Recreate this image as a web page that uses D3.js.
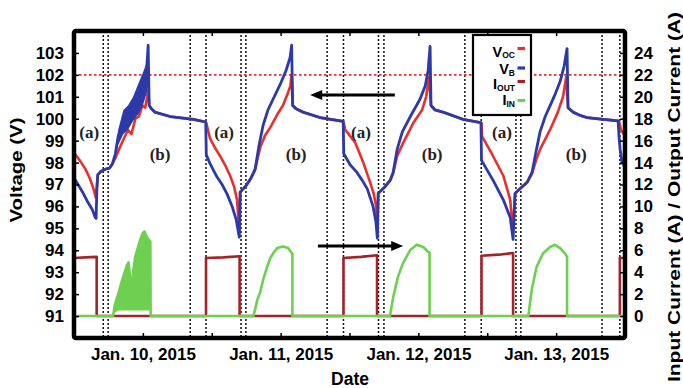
<!DOCTYPE html>
<html>
<head>
<meta charset="utf-8">
<script src="https://cdn.jsdelivr.net/npm/d3@7"></script>
<style>
  html, body { margin: 0; padding: 0; background: #fff; }
  svg { display: block; font-family: "Liberation Sans", Arial, Helvetica, sans-serif; }
</style>
</head>
<body>
<svg id="chart" width="683" height="388"></svg>
<script>
// Time is in hours from Jan. 10, 2015 00:00.
const dayTickHours = [0, 24, 48, 72];
const dayTickLabels = ["Jan. 10, 2015", "Jan. 11, 2015", "Jan. 12, 2015", "Jan. 13, 2015"];
const halfDayTickHours = [-12, 12, 36, 60, 84];
const voltageTicks = [91, 92, 93, 94, 95, 96, 97, 98, 99, 100, 101, 102, 103];
const currentTicks = [0, 2, 4, 6, 8, 10, 12, 14, 16, 18, 20, 22, 24];
const voltageLimit = 102;

// Battery voltage V_B [hour, V]
const vB = [
  [-12.0, 97.3], [-11.3, 97.0], [-10.5, 96.65], [-9.6, 96.2], [-8.8, 95.85], [-8.3, 95.5], [-8.15, 95.45],
  [-8.0, 96.9], [-7.85, 97.45], [-7.3, 97.6], [-6.5, 97.7], [-5.8, 97.75], [-5.3, 97.95], [-4.8, 98.4],
  [-4.3, 99.2], [-3.4, 99.9], [-2.6, 100.1], [-1.7, 100.5], [-0.8, 100.9], [0.0, 101.4], [0.6, 102.0],
  [0.92, 103.35], [1.1, 100.6], [1.5, 100.45], [2.1, 100.3], [4.75, 100.1], [8.8, 99.97], [10.95, 99.85],
  [11.05, 98.35], [11.7, 97.95], [12.9, 97.35], [13.8, 97.0], [14.7, 96.55], [15.55, 96.0], [16.25, 95.4],
  [16.8, 94.6], [16.95, 96.65], [18.0, 96.95], [18.85, 97.3], [19.55, 97.7], [20.25, 98.8], [20.95, 99.7],
  [21.8, 100.4], [22.7, 100.9], [23.9, 101.55], [24.95, 102.2], [25.65, 102.8], [25.92, 103.35],
  [26.1, 100.6], [26.7, 100.45], [27.9, 100.3], [30.9, 100.05], [34.9, 99.88],
  [35.0, 98.4], [36.1, 97.9], [37.3, 97.55], [38.2, 97.2], [39.1, 96.8], [40.1, 96.0], [40.6, 95.3],
  [40.85, 94.55], [41.0, 96.6], [42.2, 96.9], [43.1, 97.2], [43.6, 97.55], [44.3, 98.6], [45.2, 99.4],
  [46.6, 100.1], [48.3, 100.9], [49.2, 101.5], [49.7, 102.2], [50.04, 103.3], [50.2, 100.6], [50.9, 100.4],
  [52.3, 100.3], [55.8, 99.97], [58.9, 99.82],
  [59.0, 98.1], [61.0, 97.2], [62.8, 96.3], [64.0, 95.5], [64.5, 94.5], [64.85, 96.6], [65.9, 96.85],
  [66.95, 97.1], [67.8, 97.55], [68.5, 98.5], [69.2, 99.4], [70.1, 100.1], [70.95, 100.6], [71.8, 101.1],
  [72.7, 101.7], [73.4, 102.4], [73.9, 103.2], [74.08, 100.5], [74.95, 100.3], [76.2, 100.15],
  [77.4, 100.05], [80.2, 99.97], [82.8, 99.9], [82.95, 99.2], [83.15, 98.6], [83.5, 98.0], [84.0, 97.8]
];

// Spread of the noisy V_B trace on the first charging day [hour, low, high]
const vBNoise = [
  [-4.8, 98.2, 98.4], [-4.3, 98.8, 99.5], [-3.4, 99.3, 100.4], [-2.6, 99.5, 100.6], [-1.7, 99.9, 101.0],
  [-0.8, 100.2, 101.6], [0.0, 100.6, 102.1], [0.7, 101.2, 102.6], [0.92, 101.5, 103.35], [1.1, 100.6, 100.6]
];

// Open-circuit voltage V_OC [hour, V]
const vOC = [
  [-12.0, 98.45], [-11.0, 98.1], [-10.0, 97.7], [-9.2, 97.25], [-8.6, 96.8], [-8.2, 96.4], [-8.0, 96.9],
  [-7.85, 97.45], [-7.3, 97.6], [-6.5, 97.7], [-5.8, 97.75], [-5.3, 97.95], [-4.8, 98.2], [-4.0, 98.7],
  [-3.3, 99.1], [-2.6, 99.5], [-2.0, 99.3], [-1.3, 100.0], [-0.7, 100.1], [-0.1, 100.6], [0.4, 100.5],
  [0.75, 101.0], [0.92, 101.3], [1.1, 100.6], [1.5, 100.45], [2.1, 100.3], [4.75, 100.1], [8.8, 99.97],
  [10.95, 99.85],
  [11.05, 99.8], [11.7, 99.1], [12.5, 98.7], [13.45, 98.3], [14.3, 97.9], [15.2, 97.4], [15.9, 96.9],
  [16.4, 96.3], [16.8, 94.9], [16.95, 96.65], [18.0, 96.95], [18.85, 97.3], [19.55, 97.65], [20.0, 98.2],
  [20.45, 98.7], [21.3, 99.25], [22.2, 99.6], [23.55, 100.25], [24.4, 100.6], [25.3, 101.2], [25.7, 101.5],
  [25.9, 102.0], [26.1, 100.6], [26.7, 100.45], [27.9, 100.3], [30.9, 100.05], [34.9, 99.88],
  [35.0, 99.8], [35.25, 99.5], [36.0, 99.25], [37.0, 98.9], [38.4, 98.0], [39.6, 97.1], [40.2, 96.6],
  [40.65, 96.0], [40.85, 94.8], [41.0, 96.6], [42.2, 96.9], [43.1, 97.2], [43.6, 97.5], [44.3, 98.3],
  [45.35, 98.9], [47.1, 99.8], [48.65, 100.4], [49.35, 101.0], [49.87, 101.9], [50.2, 100.6], [50.9, 100.4],
  [52.3, 100.3], [55.8, 99.97], [58.9, 99.82],
  [59.0, 99.8], [59.1, 99.2], [61.0, 98.3], [62.8, 97.4], [64.0, 96.3], [64.45, 94.9], [64.85, 96.6],
  [65.9, 96.85], [66.95, 97.1], [67.8, 97.5], [68.5, 98.1], [69.2, 98.6], [70.95, 99.5], [72.3, 100.3],
  [73.2, 101.0], [73.75, 101.9], [74.08, 100.5], [74.95, 100.3], [76.2, 100.15], [77.4, 100.05],
  [80.2, 99.97], [82.8, 99.9], [83.0, 99.85], [83.3, 99.5], [84.0, 99.2]
];

// Output current I_OUT [hour, A]
const iOut = [
  [-12.0, 5.3], [-10.0, 5.35], [-8.05, 5.4], [-8.05, 0], [11.0, 0], [11.0, 5.3], [14.0, 5.35],
  [16.85, 5.45], [16.85, 0], [34.95, 0], [34.95, 5.3], [38.0, 5.4], [40.8, 5.55], [40.8, 0],
  [59.0, 0], [59.0, 5.5], [62.0, 5.6], [64.5, 5.75], [64.5, 0], [83.1, 0], [83.1, 5.3], [84.0, 5.3]
];

// Input current I_IN [hour, A]
const iIn = [
  [-12.0, 0], [-5.2, 0], [-4.9, 1.0], [-4.3, 2.0], [-3.6, 3.3], [-2.8, 4.6], [-2.5, 4.9], [-2.2, 3.4],
  [-1.95, 2.2], [-1.7, 4.0], [-1.35, 5.4], [-0.5, 6.9], [0.0, 7.6], [0.3, 7.7], [0.8, 7.1], [1.15, 6.9],
  [1.3, 6.8], [1.35, 0],
  [19.25, 0], [19.6, 0.7], [19.95, 1.5], [20.45, 2.2], [21.0, 3.4], [21.65, 4.5], [22.2, 5.3], [22.8, 5.8],
  [23.4, 6.2], [24.45, 6.35], [25.3, 6.2], [25.85, 5.8], [26.05, 5.7], [26.05, 0],
  [43.05, 0], [43.6, 1.7], [44.45, 3.6], [45.3, 4.8], [46.55, 6.0], [47.7, 6.5], [48.85, 6.3],
  [49.7, 5.85], [49.95, 5.8], [49.95, 0],
  [67.15, 0], [67.75, 2.4], [68.6, 4.5], [69.7, 5.7], [70.95, 6.3], [71.8, 6.5], [72.7, 6.2],
  [73.55, 5.7], [73.9, 5.4], [73.9, 0], [84.0, 0]
];

// Spread of the noisy I_IN trace on the first charging day [hour, low, high]
const iInNoise = [
  [-5.2, 0, 0], [-4.9, 0.3, 1.0], [-4.3, 0.5, 2.0], [-3.6, 0.5, 3.3], [-2.8, 0.5, 4.6], [-2.5, 0.5, 4.9],
  [-2.2, 0.5, 3.4], [-1.95, 0.5, 2.2], [-1.7, 0.5, 4.0], [-1.35, 0.5, 5.4], [-0.5, 0.5, 6.9],
  [0.0, 0.5, 7.6], [0.3, 0.5, 7.7], [0.8, 0.5, 7.1], [1.15, 0.5, 6.9], [1.3, 0.5, 6.8], [1.35, 0, 0]
];

// Operating-mode boundaries (hours)
const modeBoundaries = [-6.9, -6.05, 8.25, 11.0, 17.1, 17.95, 32.1, 34.95, 41.05, 42.0,
                        56.1, 58.95, 65.0, 65.85, 80.0, 83.1];

// Mode labels [text, hour, V]
const modeLabels = [
  ["(a)", -9.35, 99.35], ["(a)", 14.15, 99.35], ["(a)", 38.0, 99.35], ["(a)", 62.55, 99.35],
  ["(b)", 3.0, 98.35], ["(b)", 26.7, 98.35], ["(b)", 50.4, 98.35], ["(b)", 75.5, 98.35]
];

const legendNames = [["V", "OC"], ["V", "B"], ["I", "OUT"], ["I", "IN"]];

const colors = { vOC: "#e9302c", vB: "#2b3aa8", iOut: "#a3232a", iIn: "#6dd04e", limit: "#f02a2a" };

// ---------------------------------------------------------------------------
const svg = d3.select("#chart");
const P = { left: 74, right: 625, top: 31, bottom: 338 };

const x = d3.scaleLinear().domain([-12, 84]).range([P.left, P.right]);
const yV = d3.scaleLinear().domain([90, 104]).range([P.bottom, P.top]);
const yI = d3.scaleLinear().domain([-2, 26]).range([P.bottom, P.top]);

svg.append("defs").append("clipPath").attr("id", "plot-clip")
  .append("rect").attr("x", P.left).attr("y", P.top)
  .attr("width", P.right - P.left).attr("height", P.bottom - P.top);

// Mode boundaries
svg.append("g").selectAll("line").data(modeBoundaries).join("line")
  .attr("x1", d => x(d)).attr("x2", d => x(d))
  .attr("y1", P.top).attr("y2", P.bottom)
  .attr("stroke", "#111").attr("stroke-width", 1.5).attr("stroke-dasharray", "2,2");

// Voltage limit
svg.append("line")
  .attr("x1", P.left).attr("x2", P.right)
  .attr("y1", yV(voltageLimit)).attr("y2", yV(voltageLimit))
  .attr("stroke", colors.limit).attr("stroke-width", 1.8).attr("stroke-dasharray", "2.5,2.5");

const data = svg.append("g").attr("clip-path", "url(#plot-clip)");

const lineV = d3.line().x(d => x(d[0])).y(d => yV(d[1]));
const lineI = d3.line().x(d => x(d[0])).y(d => yI(d[1]));

data.append("path").datum(iOut).attr("d", lineI)
  .attr("fill", "none").attr("stroke", colors.iOut).attr("stroke-width", 2.6).attr("stroke-linejoin", "round");

data.append("path").datum(iInNoise)
  .attr("d", d3.area().x(d => x(d[0])).y0(d => yI(d[1])).y1(d => yI(d[2])))
  .attr("fill", colors.iIn);

data.append("path").datum(iIn).attr("d", lineI)
  .attr("fill", "none").attr("stroke", colors.iIn).attr("stroke-width", 2.6).attr("stroke-linejoin", "round");

data.append("path").datum(vOC).attr("d", lineV)
  .attr("fill", "none").attr("stroke", colors.vOC).attr("stroke-width", 2.6).attr("stroke-linejoin", "round");

data.append("path").datum(vBNoise)
  .attr("d", d3.area().x(d => x(d[0])).y0(d => yV(d[1])).y1(d => yV(d[2])))
  .attr("fill", colors.vB);

data.append("path").datum(vB).attr("d", lineV)
  .attr("fill", "none").attr("stroke", colors.vB).attr("stroke-width", 2.8).attr("stroke-linejoin", "round");

// Mode labels
svg.append("g").selectAll("text").data(modeLabels).join("text")
  .attr("x", d => x(d[1])).attr("y", d => yV(d[2]))
  .attr("text-anchor", "middle").attr("dominant-baseline", "central")
  .attr("font-family", "'Liberation Serif', 'Times New Roman', serif")
  .attr("font-weight", "bold").attr("font-size", 17).attr("fill", "#222")
  .text(d => d[0]);

// Arrows pointing to the axis each group of traces belongs to
function arrow(x1, x2, y) {
  const dir = Math.sign(x2 - x1), head = 12, half = 5;
  const g = svg.append("g");
  g.append("line").attr("x1", x1).attr("x2", x2 - dir * head + dir).attr("y1", y).attr("y2", y)
    .attr("stroke", "#000").attr("stroke-width", 3);
  g.append("path")
    .attr("d", `M${x2},${y} L${x2 - dir * head},${y - half} L${x2 - dir * head},${y + half} Z`)
    .attr("fill", "#000");
}
arrow(x(43.9), x(29.15), yV(101.08));
arrow(x(30.5), x(45.35), yI(6.4));

// Axes with inward ticks
const fontAxis = { size: 17 };
function styleAxis(g) {
  g.select(".domain").remove();
  g.selectAll(".tick line").attr("stroke", "#000").attr("stroke-width", 1.5);
  g.selectAll(".tick text").attr("font-size", fontAxis.size).attr("font-weight", "bold")
    .attr("fill", "#000").attr("font-family", "'Liberation Sans', Arial, sans-serif");
}

svg.append("g").attr("transform", `translate(${P.left},0)`)
  .call(d3.axisLeft(yV).tickValues(voltageTicks).tickSize(-5).tickPadding(10).tickFormat(d3.format("d")))
  .call(styleAxis);

svg.append("g").attr("transform", `translate(${P.right},0)`)
  .call(d3.axisRight(yI).tickValues(currentTicks).tickSize(-5).tickPadding(9).tickFormat(d3.format("d")))
  .call(styleAxis);

const xTicks = halfDayTickHours.concat(dayTickHours).sort((a, b) => a - b);
const xLabel = h => { const i = dayTickHours.indexOf(h); return i >= 0 ? dayTickLabels[i] : ""; };
svg.append("g").attr("transform", `translate(0,${P.bottom})`)
  .call(d3.axisBottom(x).tickValues(xTicks).tickSize(-5).tickPadding(10).tickFormat(xLabel))
  .call(styleAxis);
svg.append("g").attr("transform", `translate(0,${P.top})`)
  .call(d3.axisTop(x).tickValues(xTicks).tickSize(-5).tickFormat(() => ""))
  .call(styleAxis);

// Frame
svg.append("rect")
  .attr("x", P.left).attr("y", P.top).attr("width", P.right - P.left).attr("height", P.bottom - P.top)
  .attr("fill", "none").attr("stroke", "#000").attr("stroke-width", 4.5).attr("rx", 2);

// Axis titles
svg.append("text").attr("x", 350).attr("y", 385).attr("text-anchor", "middle")
  .attr("font-size", 17.5).attr("font-weight", "bold").text("Date");

svg.append("text").attr("transform", "translate(22,170) rotate(-90)")
  .attr("text-anchor", "middle").attr("font-size", 16).attr("font-weight", "bold")
  .attr("textLength", 105).attr("lengthAdjust", "spacingAndGlyphs").text("Voltage (V)");

svg.append("text").attr("transform", "translate(680,197) rotate(-90)")
  .attr("text-anchor", "middle").attr("font-size", 17).attr("font-weight", "bold")
  .attr("textLength", 370).attr("lengthAdjust", "spacingAndGlyphs")
  .text("Input Current (A) / Output Current (A)");

// Legend
const legend = svg.append("g");
legend.append("rect").attr("x", 473).attr("y", 35).attr("width", 58).attr("height", 80)
  .attr("fill", "#fff").attr("stroke", "#000").attr("stroke-width", 2.2);
const legendColors = [colors.vOC, colors.vB, colors.iOut, colors.iIn];
const legendBaselines = [56.5, 74, 89, 105];
const legendSwatchY = [48.5, 68, 81.5, 100.5];
legendNames.forEach((n, i) => {
  const t = legend.append("text").attr("x", 515).attr("y", legendBaselines[i])
    .attr("text-anchor", "end").attr("font-weight", "bold").attr("fill", "#000");
  t.append("tspan").attr("font-size", 14.5).text(n[0]);
  t.append("tspan").attr("font-size", 8.5).attr("dy", 1.5).text(n[1]);
  legend.append("line").attr("x1", 517.5).attr("x2", 525)
    .attr("y1", legendSwatchY[i]).attr("y2", legendSwatchY[i])
    .attr("stroke", legendColors[i]).attr("stroke-width", 3.2);
});
</script>
</body>
</html>
